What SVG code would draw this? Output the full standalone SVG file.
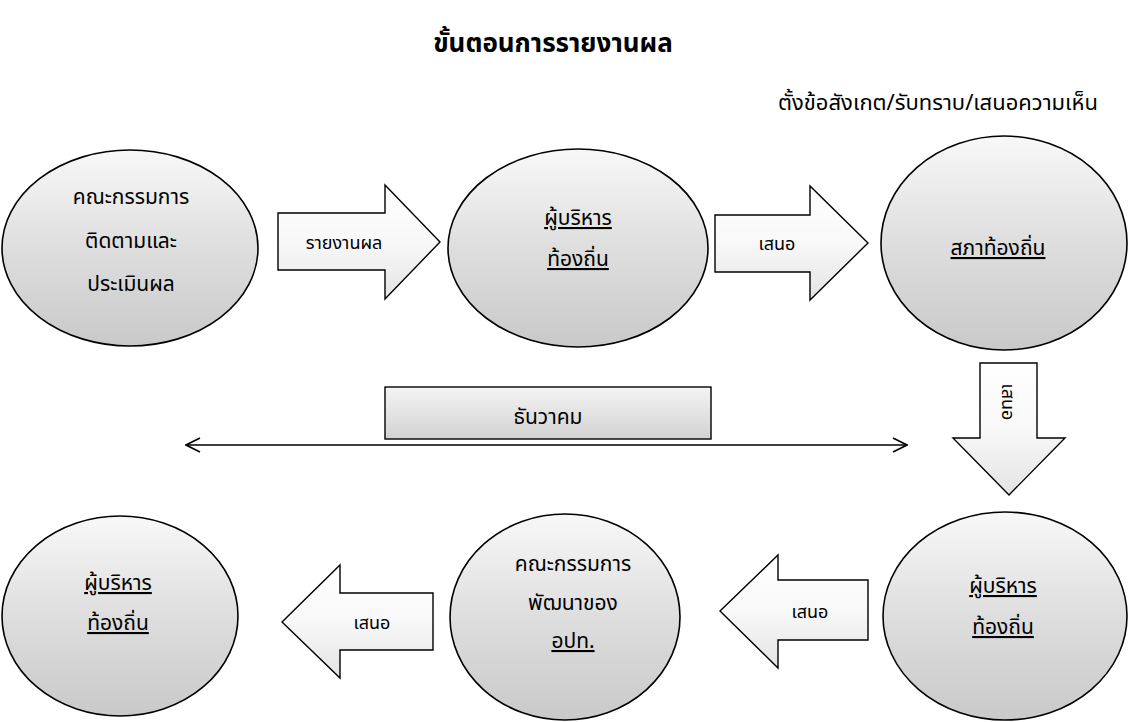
<svg xmlns="http://www.w3.org/2000/svg" width="1131" height="722" viewBox="0 0 1131 722">
<defs>
<linearGradient id="gc" x1="0" y1="0" x2="0" y2="1">
<stop offset="0" stop-color="#f8f8f8"/>
<stop offset="0.5" stop-color="#dedede"/>
<stop offset="1" stop-color="#c9c9c9"/>
</linearGradient>
<linearGradient id="ga" x1="0" y1="0" x2="0" y2="1">
<stop offset="0" stop-color="#ffffff"/>
<stop offset="0.5" stop-color="#f8f8f8"/>
<stop offset="1" stop-color="#e4e4e4"/>
</linearGradient>
<linearGradient id="gr" x1="0" y1="0" x2="0" y2="1">
<stop offset="0" stop-color="#f4f4f4"/>
<stop offset="1" stop-color="#d2d2d2"/>
</linearGradient>
<marker id="ah" viewBox="0 0 16 16" refX="15" refY="8" markerWidth="16" markerHeight="16" markerUnits="userSpaceOnUse" orient="auto-start-reverse">
<path d="M1,1 L15,8 L1,15" fill="none" stroke="#000" stroke-width="1.6"/>
</marker>
</defs>
<style>
text{font-family:"Noto Sans Thai","Tahoma","Loma","Garuda","Noto Sans","DejaVu Sans",sans-serif;fill:#000;text-anchor:middle;}
.node ellipse{fill:url(#gc);stroke:#000;stroke-width:1.6;}
.arr{fill:url(#ga);stroke:#000;stroke-width:1.4;}
.t{font-size:21px;}
.u{text-decoration:underline;}
.lbl{font-size:18px;}
</style>
<rect width="1131" height="722" fill="#fff"/>
<text x="553" y="52" style="font-size:26px;font-weight:bold">ขั้นตอนการรายงานผล</text>
<text x="938" y="110" style="font-size:22px">ตั้งข้อสังเกต/รับทราบ/เสนอความเห็น</text>

<g id="n1" class="node"><ellipse cx="130" cy="248" rx="128" ry="98"/>
<text class="t" x="131" y="204">คณะกรรมการ</text>
<text class="t" x="131" y="248">ติดตามและ</text>
<text class="t" x="131" y="291">ประเมินผล</text></g>

<g id="n2" class="node"><ellipse cx="578" cy="248" rx="130" ry="99"/>
<text class="t u" x="578" y="225">ผู้บริหาร</text>
<text class="t u" x="578" y="266">ท้องถิ่น</text></g>

<g id="n3" class="node"><ellipse cx="1004" cy="243" rx="123" ry="107"/>
<text class="t u" x="998" y="255">สภาท้องถิ่น</text></g>

<g id="n4" class="node"><ellipse cx="120" cy="616" rx="118" ry="100"/>
<text class="t u" x="118" y="590">ผู้บริหาร</text>
<text class="t u" x="118" y="630">ท้องถิ่น</text></g>

<g id="n5" class="node"><ellipse cx="565" cy="617" rx="115" ry="103"/>
<text class="t" x="573" y="571">คณะกรรมการ</text>
<text class="t" x="573" y="610">พัฒนาของ</text>
<text class="t u" x="573" y="648">อปท.</text></g>

<g id="n6" class="node"><ellipse cx="1005" cy="616" rx="122" ry="104"/>
<text class="t u" x="1003" y="593">ผู้บริหาร</text>
<text class="t u" x="1003" y="634">ท้องถิ่น</text></g>

<g id="connectors">
<g id="a1"><path class="arr" d="M278,213 H385 V185 L440,242 L385,299 V270 H278 Z"/>
<text class="lbl" x="344" y="249">รายงานผล</text></g>
<g id="a2"><path class="arr" d="M715,215 H810 V186 L868,243 L810,300 V272 H715 Z"/>
<text class="lbl" x="777" y="250">เสนอ</text></g>
<g id="a3"><path class="arr" d="M980,363 H1037 V438 H1065 L1009,495 L953,438 H980 Z"/>
<text class="lbl" transform="translate(1008,402) rotate(90)" x="0" y="6">เสนอ</text></g>
<g id="a4"><path class="arr" d="M868,580 H778 V555 L720,611 L778,668 V640 H868 Z"/>
<text class="lbl" x="810" y="618">เสนอ</text></g>
<g id="a5"><path class="arr" d="M433,593 H340 V565 L282,622 L340,678 V650 H433 Z"/>
<text class="lbl" x="372" y="629">เสนอ</text></g>
<g id="dec"><rect x="385" y="387" width="326" height="52" fill="url(#gr)" stroke="#000" stroke-width="1.4"/>
<text x="548" y="424" style="font-size:21px">ธันวาคม</text>
<line x1="186" y1="445" x2="907" y2="445" stroke="#000" stroke-width="1.5" marker-start="url(#ah)" marker-end="url(#ah)"/></g>
</g>
</svg>
